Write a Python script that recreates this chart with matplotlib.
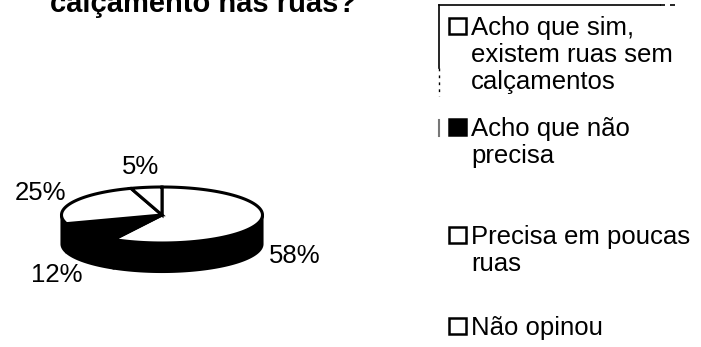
import numpy as np
import matplotlib.pyplot as plt
from matplotlib.patches import Polygon, Rectangle

plt.rcParams['font.family'] = ['Liberation Sans', 'DejaVu Sans']

# survey answers
answers = ['Acho que sim,\nexistem ruas sem\ncalçamentos',
           'Acho que não\nprecisa',
           'Precisa em poucas\nruas',
           'Não opinou']
shares = [58, 12, 25, 5]
share_labels = ['58%', '12%', '25%', '5%']

fills = ['white', 'black', 'white', 'white']

fig = plt.figure(figsize=(7.01, 3.47), dpi=100)
ax = fig.add_axes([0, 0, 1, 1])
ax.set_xlim(0, 701)
ax.set_ylim(347, 0)
ax.axis('off')

# pie geometry (pixels)
cx, cy = 162, 215
rx, ry = 100.5, 28
depth = 29


def arc(t0, t1, dy=0, n=80):
    t = np.radians(np.linspace(t0, t1, n))
    return np.column_stack([cx + rx * np.cos(t), cy + dy - ry * np.sin(t)])


cum = np.concatenate([[0], np.cumsum(shares)])
starts = 90 - 3.6 * cum[:-1]
ends = 90 - 3.6 * cum[1:]

# side walls, only the front half is visible
for hi, lo in zip(starts, ends):
    for w0, w1 in [(-180, 0), (-540, -360), (180, 360)]:
        a0, a1 = max(lo, w0), min(hi, w1)
        if a1 <= a0:
            continue
        pts = np.vstack([arc(a0, a1), arc(a1, a0, dy=depth)])
        ax.add_patch(Polygon(pts, closed=True, facecolor='black',
                             edgecolor='black', lw=1.5, zorder=1))

# top faces
for hi, lo, fc in zip(starts, ends, fills):
    pts = np.vstack([[cx, cy], arc(hi, lo)])
    ax.add_patch(Polygon(pts, closed=True, facecolor=fc,
                         edgecolor='black', lw=2.2, joinstyle='miter', zorder=2))

# percentage labels around the pie
for hi, lo, txt in zip(starts, ends, share_labels):
    mid = np.radians((hi + lo) / 2)
    lx = cx + rx * 1.36 * np.cos(mid)
    ly = cy - ry * 1.75 * np.sin(mid) + (depth if np.sin(mid) < 0 else 0)
    ax.text(lx, ly, txt, ha='center', va='center', fontsize=18.5, color='black')

ax.text(203, 12, 'calçamento nas ruas?', ha='center', va='baseline',
        fontsize=21, fontweight='bold', color='black')

# legend
first_baselines = [35, 136, 244, 335]
line_step = 27
for base, label, fc in zip(first_baselines, answers, fills):
    ax.add_patch(Rectangle((449, base - 17), 17, 16, facecolor=fc,
                           edgecolor='black', lw=1.8, zorder=3))
    for k, line in enumerate(label.split('\n')):
        ax.text(471, base + k * line_step, line, ha='left', va='baseline',
                fontsize=18.5, color='black')

# legend frame, partly faded
ax.plot([439, 660], [5, 5], color='black', lw=1.2)
ax.plot([660, 676], [5, 5], color='black', lw=1.2, ls=(0, (3, 3)))
ax.plot([439, 439], [5, 68], color='black', lw=1.2)
ax.plot([439, 439], [68, 96], color='black', lw=1.0, ls=(0, (2, 3)))
ax.plot([439, 439], [120, 136], color='#777777', lw=1.5)

fig.savefig('out.png', dpi=100)
